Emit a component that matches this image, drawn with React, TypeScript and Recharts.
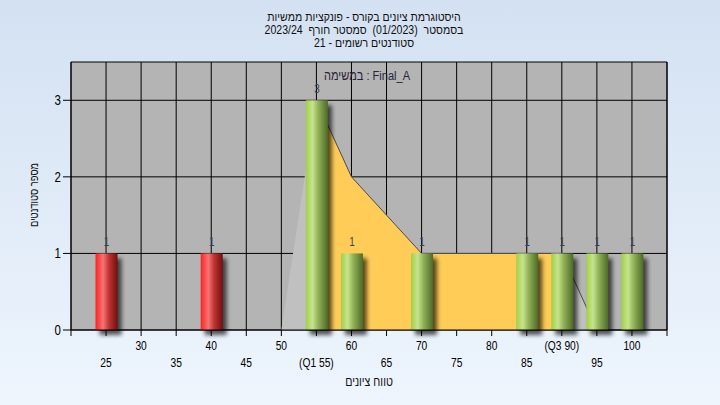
import { ComposedChart, Bar, Area, XAxis, YAxis, CartesianGrid, LabelList } from "recharts"

// grade buckets and how many students landed in each
const grades = [25, 40, 50, 55, 60, 70, 85, 90, 95, 100]
const students = [1, 1, null, 3, 1, 1, 1, 1, 1, 1]
// the smoothed outline drawn behind the bars
const trend = [null, null, 0, 3, 2, 1, 1, 1, 0, 0]
const failingGrades = [25, 40]
const q1 = 55
const q3 = 90

const xTicks = [20, 25, 30, 35, 40, 45, 50, 55, 60, 65, 70, 75, 80, 85, 90, 95, 100, 105]
const yTicks = [0, 1, 2, 3]

const titleLines = [
  "היסטוגרמת ציונים בקורס - פונקציות ממשיות",
  "בסמסטר  (01/2023)  סמסטר חורף  2023/24",
  "סטודנטים רשומים - 21",
]
const listName = "במשימה : Final_A"
const xLabel = "טווח ציונים"
const yLabel = "מספר סטודנטים"

const data = grades.map((grade, i) => ({ grade, students: students[i], trend: trend[i] }))

const FONT = '"Liberation Sans", Arial, sans-serif'
const NARROW = 0.82 // fake an Arial Narrow look

function NText(props: any) {
  const { x, y, size, anchor = "middle", fill = "#000", squeeze = NARROW, children } = props
  return (
    <text
      transform={`translate(${x} ${y}) scale(${squeeze} 1)`}
      textAnchor={anchor}
      fontSize={size}
      fill={fill}
      fontFamily={FONT}
      style={{ whiteSpace: "pre" }}
    >
      {children}
    </text>
  )
}

function GradeTick(props: any) {
  const { x, y, payload } = props
  const v = payload.value
  if (v < 25 || v > 100) return <g />
  const upper = (v / 5) % 2 === 0
  let label = String(v)
  if (v === q1) label = `(Q1 ${v})`
  if (v === q3) label = `(Q3 ${v})`
  return (
    <NText x={x} y={upper ? y + 12 : y + 29} size={12.5}>
      {label}
    </NText>
  )
}

function CountTick(props: any) {
  const { x, y, payload, textAnchor } = props
  return (
    <NText x={x} y={y + 5} size={14} anchor={textAnchor}>
      {payload.value}
    </NText>
  )
}

function CylinderBar(props: any) {
  const { x, y, width, height, payload } = props
  if (!height || height <= 0) return <g />
  const fail = failingGrades.includes(payload.grade)
  return (
    <g>
      <rect x={x + 4} y={y + 5} width={width} height={height} fill="#000" opacity={0.65} filter="url(#barShadow)" />
      <rect x={x} y={y} width={width} height={height} fill={fail ? "url(#redCyl)" : "url(#greenCyl)"} />
    </g>
  )
}

function CountLabel(props: any) {
  const { x, y, width, value } = props
  if (value == null) return null
  return (
    <NText x={x + width / 2} y={y - 7} size={12} fill="#3a4050">
      {value}
    </NText>
  )
}

export default function App() {
  return (
    <div
      style={{
        position: "absolute",
        left: 0,
        top: 0,
        width: 720,
        height: 405,
        background: "linear-gradient(#d3e1f2, #eef5fd)",
        fontFamily: FONT,
      }}
    >
      <svg width={0} height={0} style={{ position: "absolute" }}>
        <defs>
          <linearGradient id="greenCyl" x1="0" y1="0" x2="1" y2="0">
            <stop offset="0%" stopColor="#a2cf48" />
            <stop offset="30%" stopColor="#c6e48c" />
            <stop offset="55%" stopColor="#93b35a" />
            <stop offset="100%" stopColor="#4d6a26" />
          </linearGradient>
          <linearGradient id="redCyl" x1="0" y1="0" x2="1" y2="0">
            <stop offset="0%" stopColor="#ff2222" />
            <stop offset="35%" stopColor="#f47474" />
            <stop offset="60%" stopColor="#c23434" />
            <stop offset="100%" stopColor="#6e1010" />
          </linearGradient>
          <filter id="barShadow" x="-50%" y="-20%" width="200%" height="140%">
            <feGaussianBlur stdDeviation="2" />
          </filter>
        </defs>
      </svg>

      <svg width={720} height={60} style={{ position: "absolute", left: 0, top: 0 }}>
        {titleLines.map((t, i) => (
          <NText key={i} x={364} y={21 + i * 13} size={12} squeeze={0.88} fill="#111">
            {t}
          </NText>
        ))}
      </svg>

      <ComposedChart
        width={720}
        height={405}
        data={data}
        margin={{ top: 62, right: 13, bottom: 35, left: 31 }}
        style={{ position: "absolute", left: 0, top: 0 }}
      >
        <CartesianGrid yAxisId="left" stroke="#000" strokeOpacity={1} fill="#b4b4b4" fillOpacity={1} />
        <XAxis
          type="number"
          dataKey="grade"
          domain={[20, 105]}
          ticks={xTicks}
          interval={0}
          height={40}
          tickSize={6}
          axisLine={{ stroke: "#000" }}
          tickLine={{ stroke: "#000" }}
          tick={<GradeTick />}
          allowDataOverflow
        />
        <YAxis
          yAxisId="left"
          domain={[0, 3.5]}
          ticks={yTicks}
          width={40}
          tickSize={8}
          axisLine={{ stroke: "#000" }}
          tickLine={{ stroke: "#000" }}
          tick={<CountTick />}
        />
        <YAxis
          yAxisId="right"
          orientation="right"
          domain={[0, 3.5]}
          ticks={yTicks}
          width={40}
          tickSize={8}
          axisLine={{ stroke: "#000" }}
          tickLine={{ stroke: "#000" }}
          tick={<CountTick />}
        />
        <Area
          yAxisId="left"
          type="linear"
          dataKey="trend"
          fill="#c0c0c0"
          fillOpacity={1}
          stroke="none"
          isAnimationActive={false}
        />
        <Area
          yAxisId="left"
          type="linear"
          dataKey={(d: any) => (d.grade >= q1 && d.grade <= q3 ? d.trend : null)}
          fill="#ffcc57"
          fillOpacity={1}
          stroke="#4a4a4a"
          strokeWidth={1}
          isAnimationActive={false}
        />
        <Area
          yAxisId="left"
          type="linear"
          dataKey={(d: any) => (d.grade >= q3 ? d.trend : null)}
          fill="none"
          stroke="#4a4a4a"
          strokeWidth={1}
          isAnimationActive={false}
        />
        <Bar yAxisId="left" dataKey="students" barSize={22} shape={<CylinderBar />} isAnimationActive={false}>
          <LabelList dataKey="students" content={<CountLabel />} />
        </Bar>
      </ComposedChart>

      <svg width={720} height={405} style={{ position: "absolute", left: 0, top: 0, pointerEvents: "none" }}>
        <NText x={367} y={80} size={13.5} fill="#2a1f3a">
          {listName}
        </NText>
        <NText x={369} y={386} size={13} fill="#111">
          {xLabel}
        </NText>
        <text
          transform="translate(38 195) rotate(-90)"
          textAnchor="middle"
          fontSize={12}
          fill="#111"
          fontFamily={FONT}
          textLength={64}
          lengthAdjust="spacingAndGlyphs"
        >
          {yLabel}
        </text>
      </svg>
    </div>
  )
}
